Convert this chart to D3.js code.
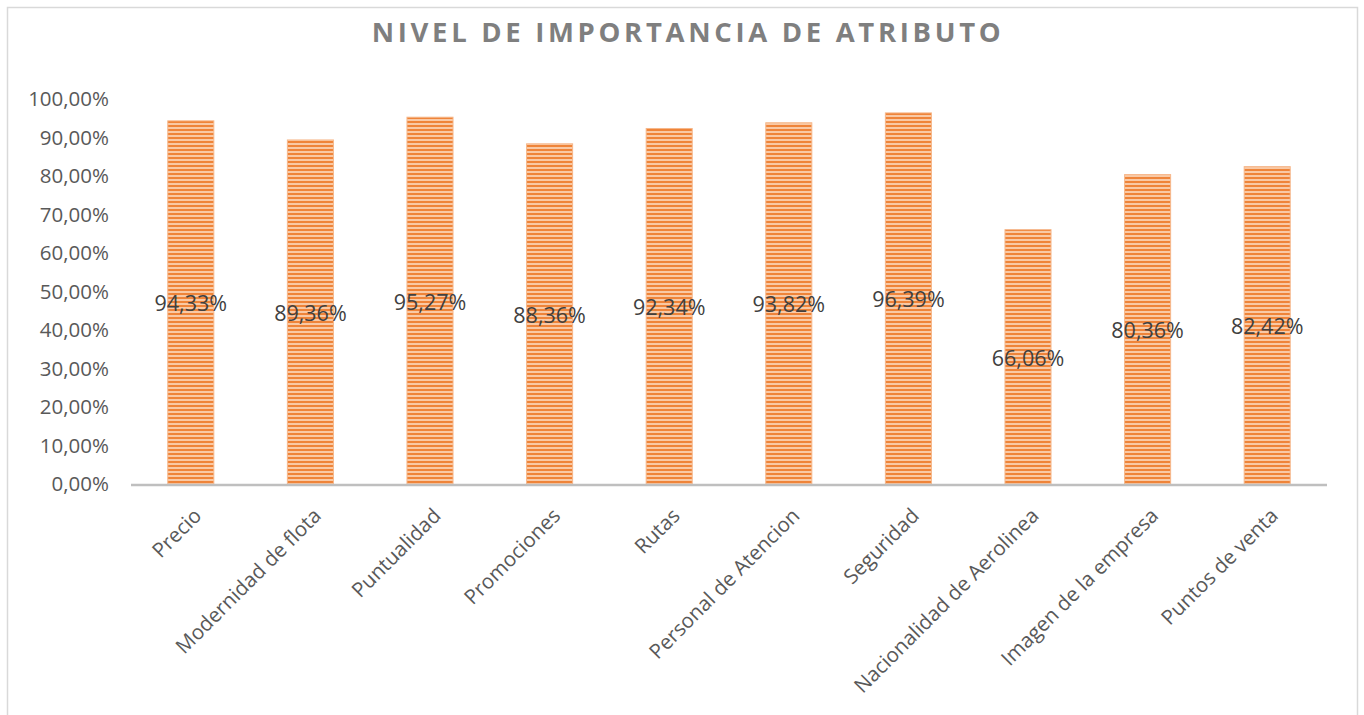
<!DOCTYPE html>
<html>
<head>
<meta charset="utf-8">
<script src="https://cdn.jsdelivr.net/npm/d3@7"></script>
<style>
  body { margin: 0; background: #fff; }
  text { font-family: "Open Sans", "Noto Sans", sans-serif; }
</style>
</head>
<body>
<div id="chart"></div>
<script>
const categories = [
  "Precio", "Modernidad de flota", "Puntualidad", "Promociones", "Rutas",
  "Personal de Atencion", "Seguridad", "Nacionalidad de Aerolinea",
  "Imagen de la empresa", "Puntos de venta"
];
const values = [94.33, 89.36, 95.27, 88.36, 92.34, 93.82, 96.39, 66.06, 80.36, 82.42];
const yTicks = [0, 10, 20, 30, 40, 50, 60, 70, 80, 90, 100];
const title = "NIVEL DE IMPORTANCIA DE ATRIBUTO";

const width = 1364, height = 715;
const fmt = v => v.toFixed(2).replace(".", ",") + "%";

const svg = d3.select("#chart").append("svg")
  .attr("width", width)
  .attr("height", height);

// striped fill
const defs = svg.append("defs");
const pat = defs.append("pattern")
  .attr("id", "stripes")
  .attr("patternUnits", "userSpaceOnUse")
  .attr("width", 8)
  .attr("height", 4);
pat.append("rect").attr("width", 8).attr("height", 4).attr("fill", "#f9c9a5");
pat.append("rect").attr("y", 1).attr("width", 8).attr("height", 2).attr("fill", "#ef8439");

// chart border
svg.append("rect")
  .attr("x", 7.5).attr("y", 7.5)
  .attr("width", 1350).attr("height", 720)
  .attr("fill", "none")
  .attr("stroke", "#d9d9d9")
  .attr("stroke-width", 1.5);

const t = svg.append("text")
  .attr("x", 688).attr("y", 42)
  .attr("text-anchor", "middle")
  .attr("fill", "#7f7f7f")
  .attr("font-size", 27.5)
  .attr("font-weight", "bold")
  .text(title);
// spread letters so the title spans ~629px like the original
const baseLen = t.node().getComputedTextLength();
t.attr("letter-spacing", (629 - baseLen) / (title.length - 1));

const x = d3.scaleBand()
  .domain(categories)
  .range([131, 1327])
  .paddingInner(0.615)
  .paddingOuter(0.3075);

const y = d3.scaleLinear()
  .domain([0, 100])
  .range([484, 99]);

// y axis labels
const yAxis = svg.append("g")
  .attr("transform", "translate(109,0)")
  .call(d3.axisLeft(y).tickValues(yTicks).tickSize(0).tickFormat(d => fmt(d)));
yAxis.select(".domain").remove();
yAxis.selectAll("text")
  .attr("font-size", 20.5)
  .attr("fill", "#595959")
  .attr("x", 0)
  .style("font-family", "'Open Sans', sans-serif");

// bars
svg.selectAll(".bar")
  .data(values)
  .enter()
  .append("rect")
  .attr("class", "bar")
  .attr("x", (d, i) => x(categories[i]))
  .attr("y", d => y(d))
  .attr("width", x.bandwidth())
  .attr("height", d => y(0) - y(d))
  .attr("fill", "url(#stripes)")
  .attr("stroke", "#f6b78a")
  .attr("stroke-width", 1);

// baseline
svg.append("line")
  .attr("x1", 131).attr("x2", 1327)
  .attr("y1", y(0) + 1).attr("y2", y(0) + 1)
  .attr("stroke", "#bfbfbf")
  .attr("stroke-width", 2.5);

// data labels
svg.selectAll(".lbl")
  .data(values)
  .enter()
  .append("text")
  .attr("class", "lbl")
  .attr("x", (d, i) => x(categories[i]) + x.bandwidth() / 2)
  .attr("y", d => (y(d) + y(0)) / 2 + 9)
  .attr("text-anchor", "middle")
  .attr("font-size", 21.5)
  .attr("fill", "#404040")
  .text(d => fmt(d));

// x labels
const xAxis = svg.append("g")
  .attr("transform", `translate(0,${y(0)})`)
  .call(d3.axisBottom(x).tickSize(0));
xAxis.select(".domain").remove();
xAxis.selectAll("text")
  .attr("font-size", 20.5)
  .attr("fill", "#595959")
  .attr("text-anchor", "end")
  .attr("transform", "translate(12,33) rotate(-45)")
  .attr("dy", 0)
  .attr("y", 0)
  .style("font-family", "'Open Sans', sans-serif");
</script>
</body>
</html>
